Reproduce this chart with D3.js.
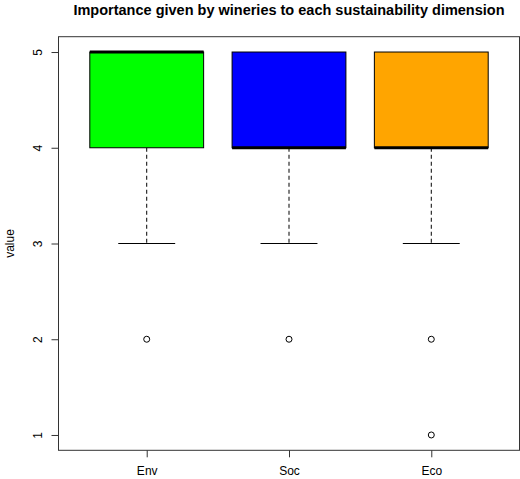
<!DOCTYPE html>
<html><head><meta charset="utf-8">
<script src="https://cdn.jsdelivr.net/npm/d3@7"></script>
<style>body{margin:0;background:#fff}</style>
</head><body><svg id="chart" width="520" height="479"></svg>
<script>
// boxplot stats
var groups = ["Env", "Soc", "Eco"];
var colors = ["#00ff00", "#0000ff", "#ffa500"];
var lowerWhisker = [3, 3, 3];
var q1 = [4, 4, 4];
var medians = [5, 4, 4];
var q3 = [5, 5, 5];
var upperWhisker = [5, 5, 5];
var outliers = [[2], [2], [2, 1]];
var yTicks = [1, 2, 3, 4, 5];

var svg = d3.select("#chart");
var font = "Liberation Sans, Arial, sans-serif";
var plotLeft = 58.5, plotRight = 519.5, plotTop = 36.7, plotBottom = 450.3;

var x = d3.scaleLinear().domain([0.38, 3.62]).range([plotLeft, plotRight]);
var y = d3.scaleLinear().domain([0.84, 5.16]).range([plotBottom, plotTop]);
var bw = x(1.4) - x(1);

svg.append("text").attr("x", (plotLeft + plotRight) / 2).attr("y", 15)
    .attr("text-anchor", "middle").attr("font-family", font)
    .attr("font-weight", "bold").attr("font-size", 14.5)
    .text("Importance given by wineries to each sustainability dimension");

groups.forEach(function (g, i) {
    var cx = x(i + 1);
    // whiskers
    svg.append("line").attr("x1", cx).attr("x2", cx)
        .attr("y1", y(q1[i])).attr("y2", y(lowerWhisker[i]))
        .attr("stroke", "#000").attr("stroke-dasharray", "4,3");
    svg.append("line").attr("x1", cx - bw / 2).attr("x2", cx + bw / 2)
        .attr("y1", y(lowerWhisker[i])).attr("y2", y(lowerWhisker[i])).attr("stroke", "#000");
    svg.append("rect").attr("x", cx - bw).attr("width", bw * 2)
        .attr("y", y(q3[i])).attr("height", y(q1[i]) - y(q3[i]))
        .attr("fill", colors[i]).attr("stroke", "#000");
    svg.append("line").attr("x1", cx - bw).attr("x2", cx + bw)
        .attr("y1", y(medians[i])).attr("y2", y(medians[i]))
        .attr("stroke", "#000").attr("stroke-width", 3);
    outliers[i].forEach(function (v) {
        svg.append("circle").attr("cx", cx).attr("cy", y(v)).attr("r", 3)
            .attr("fill", "none").attr("stroke", "#000");
    });
});

svg.append("rect").attr("x", plotLeft).attr("y", plotTop)
    .attr("width", plotRight - plotLeft).attr("height", plotBottom - plotTop)
    .attr("fill", "none").attr("stroke", "#333");

var yAxis = svg.append("g").attr("transform", "translate(" + plotLeft + ",0)")
    .call(d3.axisLeft(y).tickValues(yTicks).tickSize(7).tickFormat(d3.format("d")));
yAxis.select(".domain").remove();
yAxis.selectAll("line").attr("stroke", "#333");
yAxis.selectAll("text").attr("font-family", font).attr("font-size", 12).attr("fill", "#000")
    .attr("x", 0).attr("y", 0).attr("dy", null).attr("text-anchor", "middle")
    .attr("transform", function (d) { return "translate(-17,0) rotate(-90)"; });

var xAxis = svg.append("g").attr("transform", "translate(0," + plotBottom + ")")
    .call(d3.axisBottom(x).tickValues([1, 2, 3]).tickSize(7).tickFormat(function (d) { return groups[d - 1]; }));
xAxis.select(".domain").remove();
xAxis.selectAll("line").attr("stroke", "#333");
xAxis.selectAll("text").attr("font-family", font).attr("font-size", 12).attr("fill", "#000")
    .attr("y", 16);

svg.append("text").attr("transform", "translate(14," + (plotTop + plotBottom) / 2 + ") rotate(-90)")
    .attr("text-anchor", "middle").attr("font-family", font).attr("font-size", 12)
    .text("value");
</script></body></html>
